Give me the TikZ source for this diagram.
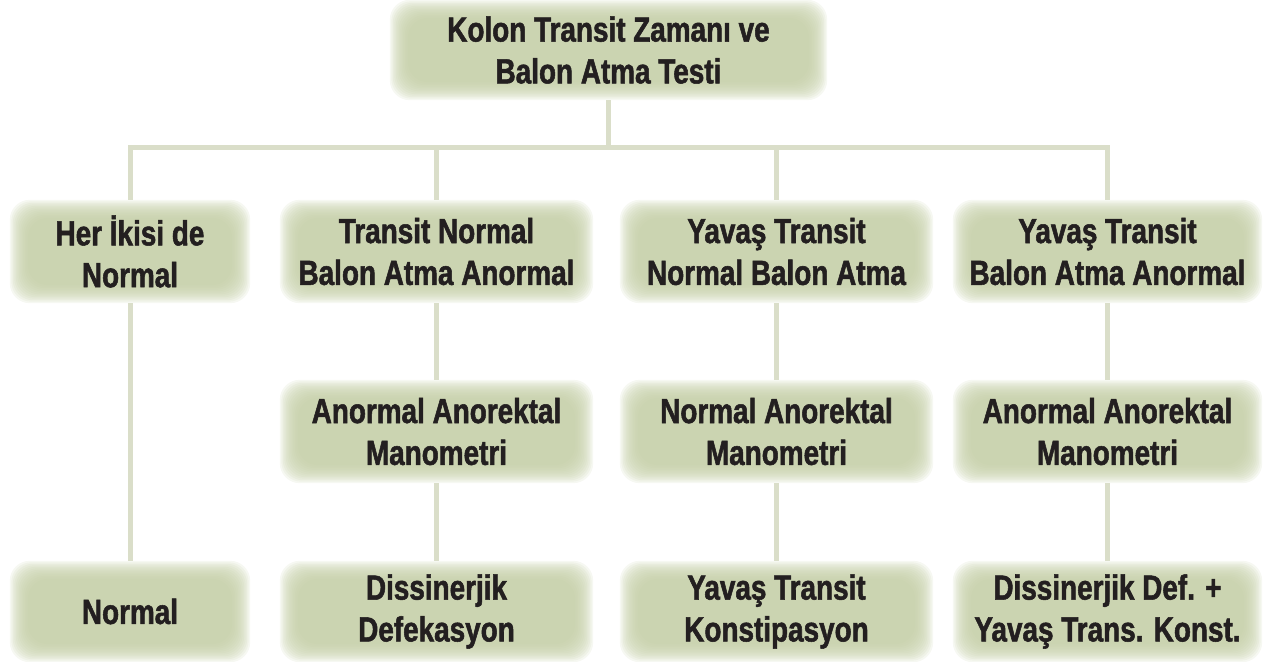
\documentclass[tikz,border=0pt]{standalone}
\usepackage{fontspec}
\setmainfont{Liberation Sans}[FakeStretch=0.8, BoldFeatures={FakeBold=1.5}]
\usetikzlibrary{backgrounds,calc}
\definecolor{boxc}{RGB}{196,206,166}
\definecolor{linec}{RGB}{218,222,201}
\definecolor{txtc}{RGB}{35,31,32}
\tikzset{
  boxnode/.style={inner sep=0pt, text=txtc, align=center,
    font=\bfseries\fontsize{35}{42}\selectfont},
  conn/.style={draw=linec, line width=5bp, line join=miter}
}
\newcommand\softfill[1]{%
  \foreach \i in {0,...,12}{%
    \fill[boxc, opacity=0.15, rounded corners=20bp]
      ([shift={(\i*1.5bp,-\i*1.5bp)}]#1.north west) rectangle
      ([shift={(-\i*1.5bp,\i*1.5bp)}]#1.south east);
  }}
\begin{document}
\begin{tikzpicture}[x=1bp,y=-1bp]
\useasboundingbox (0,0) rectangle (1263,662);
% top
\node[boxnode, minimum width=437bp, minimum height=100bp] (top) at (608.5,50) {Kolon Transit Zamanı ve\\Balon Atma Testi};
% level 2
\node[boxnode, minimum width=240bp, minimum height=103bp] (a1) at (130,251.5) {Her İkisi de\\Normal};
\node[boxnode, minimum width=313bp, minimum height=103bp] (a2) at (436.5,251.5) {Transit Normal\\Balon Atma Anormal};
\node[boxnode, minimum width=313bp, minimum height=103bp] (a3) at (776.5,251.5) {Yavaş Transit\\Normal Balon Atma};
\node[boxnode, minimum width=309bp, minimum height=103bp] (a4) at (1107.5,251.5) {Yavaş Transit\\Balon Atma Anormal};
% level 3
\node[boxnode, minimum width=313bp, minimum height=103bp] (b2) at (436.5,431.5) {Anormal Anorektal\\Manometri};
\node[boxnode, minimum width=313bp, minimum height=103bp] (b3) at (776.5,431.5) {Normal Anorektal\\Manometri};
\node[boxnode, minimum width=309bp, minimum height=103bp] (b4) at (1107.5,431.5) {Anormal Anorektal\\Manometri};
% level 4
\node[boxnode, minimum width=240bp, minimum height=101bp] (c1) at (130,611.5) {Normal};
\node[boxnode, minimum width=313bp, minimum height=101bp] (c2) at (436.5,611.5) {Dissinerjik\\Defekasyon};
\node[boxnode, minimum width=313bp, minimum height=101bp] (c3) at (776.5,611.5) {Yavaş Transit\\Konstipasyon};
\node[boxnode, minimum width=309bp, minimum height=101bp] (c4) at (1107.5,611.5) {Dissinerjik Def. +\\Yavaş Trans. Konst.};
\coordinate (bus) at (608,148);
\begin{pgfonlayer}{background}
  \foreach \n in {top,a1,a2,a3,a4,b2,b3,b4,c1,c2,c3,c4}{\softfill{\n}}
  \draw[conn] (a1.north) -- (a1.north |- bus) -- (a4.north |- bus) -- (a4.north);
  \draw[conn] (top.south) -- (top.south |- bus);
  \draw[conn] (a2.north) -- (a2.north |- bus);
  \draw[conn] (a3.north) -- (a3.north |- bus);
  \draw[conn] (a1.south) -- (c1.north);
  \draw[conn] (a2.south) -- (b2.north);
  \draw[conn] (a3.south) -- (b3.north);
  \draw[conn] (a4.south) -- (b4.north);
  \draw[conn] (b2.south) -- (c2.north);
  \draw[conn] (b3.south) -- (c3.north);
  \draw[conn] (b4.south) -- (c4.north);
\end{pgfonlayer}
\end{tikzpicture}
\end{document}
